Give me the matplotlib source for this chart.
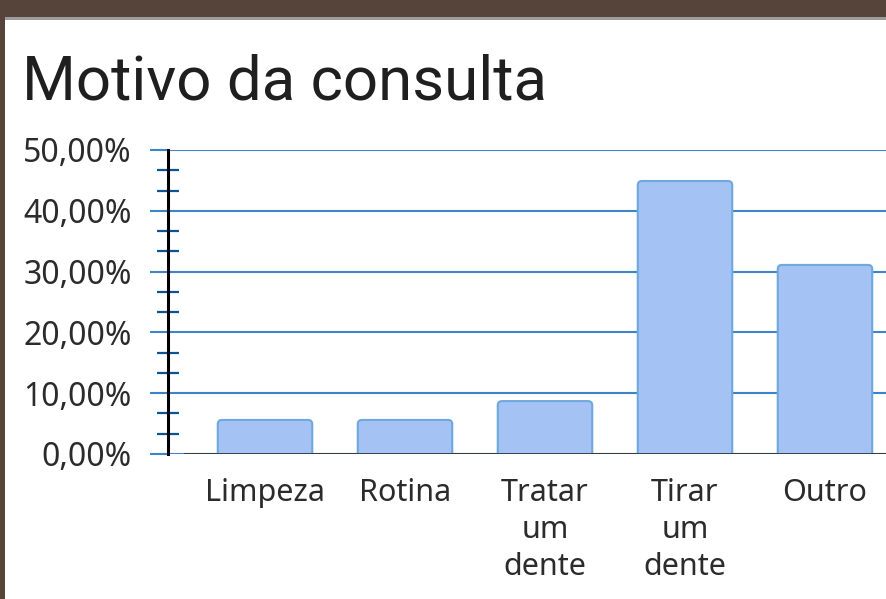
import matplotlib as mpl
import matplotlib.pyplot as plt
from matplotlib.patches import Rectangle, FancyBboxPatch
from matplotlib.ticker import MultipleLocator, FuncFormatter

mpl.rcParams.update({"font.family": ["Noto Sans", "DejaVu Sans"]})

# data (percent of answers)
categories = ["Limpeza", "Rotina", "Tratar\num\ndente", "Tirar\num\ndente", "Outro"]
values = [5.6, 5.6, 8.7, 44.9, 31.1]
y_ticks = [0, 10, 20, 30, 40, 50]

GRID = "#3d85c6"
BAR = "#a4c2f4"
BAR_EDGE = "#6fa8dc"
MINOR = "#0b5394"
TEXT = "#2b2b2b"

W, H = 887, 599
fig = plt.figure(figsize=(W / 100, H / 100), dpi=100)
fig.patch.set_facecolor("white")

# brown frame of the screenshot
fig.patches.append(Rectangle((0, 1 - 17 / H), 1, 17 / H, transform=fig.transFigure,
                             facecolor="#56443a", edgecolor="none", zorder=0))
fig.patches.append(Rectangle((0, 1 - 20 / H), 1, 3 / H, transform=fig.transFigure,
                             facecolor="#9c9c9c", edgecolor="none", zorder=0))
fig.patches.append(Rectangle((0, 0), 5 / W, 1, transform=fig.transFigure,
                             facecolor="#56443a", edgecolor="none", zorder=0))

fig.text(22 / W, 1 - 100 / H, "Motivo da consulta", fontsize=44.5, family="Roboto",
         color="#1f1f1f", va="baseline", ha="left")

ax = fig.add_axes([168 / W, 1 - 454 / H, (W - 168) / W, (454 - 150) / H])
x = list(range(len(categories)))
bars = ax.bar(x, values, width=0.675, color=BAR, edgecolor=BAR_EDGE, linewidth=1.5, zorder=3)

ax.set_xlim(-0.693, 4.443)
ax.set_ylim(0, 50)

# swap each bar for a rounded one; bottom corners go below 0 and get clipped
rx = 0.03
aspect = (50 / 304) / (5.136 / 719)
for b in bars:
    b.set_visible(False)
    ry = rx * aspect
    ax.add_patch(FancyBboxPatch((b.get_x(), -2 * ry), b.get_width(), b.get_height() + 2 * ry,
                                boxstyle=f"round,pad=0,rounding_size={rx}",
                                mutation_aspect=aspect, facecolor=BAR, edgecolor=BAR_EDGE,
                                linewidth=1.5, zorder=3))

ax.set_yticks(y_ticks)
ax.yaxis.set_minor_locator(MultipleLocator(10 / 3))
ax.yaxis.set_major_formatter(FuncFormatter(lambda v, _: f"{v:.2f}".replace(".", ",") + "%"))
ax.grid(axis="y", color=GRID, lw=1.5, zorder=1)
ax.set_axisbelow(True)

ax.tick_params(axis="y", which="major", direction="out", length=13, width=1.5,
               color=GRID, labelsize=23, labelcolor=TEXT, pad=13)
ax.tick_params(axis="y", which="minor", direction="inout", length=16, width=1.6, color=MINOR)

ax.set_xticks(x)
ax.set_xticklabels(categories, linespacing=1.32)
ax.tick_params(axis="x", length=0, labelsize=22, labelcolor=TEXT, pad=17)

for s in ["top", "right", "bottom"]:
    ax.spines[s].set_visible(False)
ax.spines["left"].set_color("black")
ax.spines["left"].set_linewidth(2.2)
ax.spines["left"].set_zorder(5)

# dark baseline
ax.axhline(0, xmin=(185 - 168) / (W - 168), xmax=1, color="#333333", lw=2, zorder=4)

plt.savefig("out.png", dpi=100, facecolor="white")
